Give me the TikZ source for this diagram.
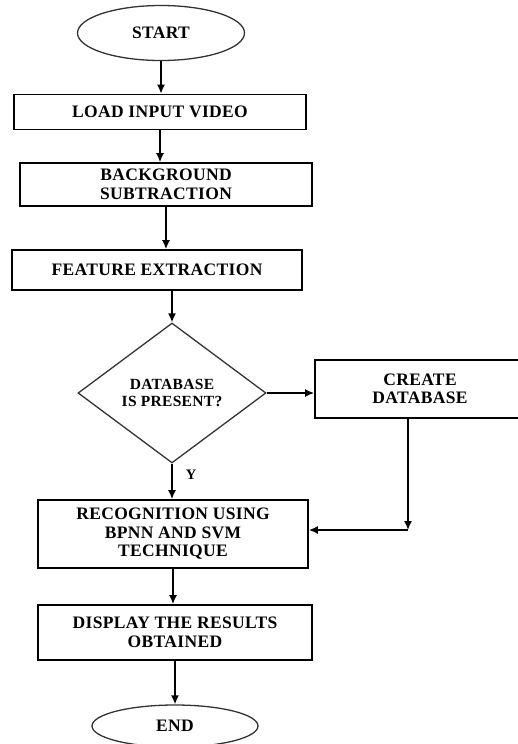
\documentclass[tikz,border=0pt]{standalone}
\usepackage{fontspec}
\setmainfont{Liberation Serif}[LetterSpace=2]
\usetikzlibrary{shapes.geometric,arrows.meta}

\begin{document}
\begin{tikzpicture}[x=1pt,y=-1pt,
    every node/.style={font=\bfseries\fontsize{17.5}{18.5}\selectfont,align=center,inner sep=0pt},
    procbox/.style={draw,line width=1.6pt,rectangle},
    termnode/.style={draw,line width=1.3pt,gray!40!black,text=black,ellipse},
    decnode/.style={draw,line width=1.3pt,gray!40!black,text=black,diamond,aspect=1.34},
    flow/.style={line width=1.6pt,-{Latex[length=9pt,width=8pt]}}]
  \useasboundingbox (0,0) rectangle (517,744);
  \node[termnode,minimum width=167pt,minimum height=55pt] (start) at (161,33) {START};
  \node[procbox,minimum width=292pt,minimum height=35pt] (load) at (160,112) {LOAD INPUT VIDEO};
  \node[procbox,minimum width=292pt,minimum height=43pt] (bgsub) at (166,184.5) {BACKGROUND\\SUBTRACTION};
  \node[procbox,minimum width=290pt,minimum height=40pt] (feat) at (157,270) {FEATURE EXTRACTION};
  \node[decnode,minimum width=188pt,minimum height=140pt,font=\bfseries\fontsize{15.5}{17}\selectfont] (dbq) at (172,393) {DATABASE\\IS PRESENT?};
  \node[procbox,minimum width=210pt,minimum height=58pt] (create) at (420,389) {CREATE\\DATABASE};
  \node[procbox,minimum width=270pt,minimum height=68pt] (recog) at (173,534) {RECOGNITION USING\\BPNN AND SVM\\TECHNIQUE};
  \node[procbox,minimum width=274pt,minimum height=55pt] (disp) at (175,632.5) {DISPLAY THE RESULTS\\OBTAINED};
  \node[termnode,minimum width=166pt,minimum height=42pt] (end) at (175,726) {END};
  \coordinate (cdrop) at (408,530);
  \draw[flow] (start) -- (start |- load.north);
  \draw[flow] (load.south) -- (load.south |- bgsub.north);
  \draw[flow] (bgsub.south) -- (bgsub.south |- feat.north);
  \draw[flow] (dbq.north |- feat.south) -- (dbq.north);
  \draw[flow] (dbq.south) -- (dbq.south |- recog.north)
    node[pos=0.3,right=13pt,font=\bfseries\fontsize{14.5}{16}\selectfont] {Y};
  \draw[flow] (dbq.east) -- (dbq.east -| create.west);
  \draw[flow] (create.south -| cdrop) -- (cdrop);
  \draw[flow] (cdrop) -- (cdrop -| recog.east);
  \draw[flow] (recog.south) -- (recog.south |- disp.north);
  \draw[flow] (disp.south) -- (disp.south |- end.north);
\end{tikzpicture}
\end{document}
